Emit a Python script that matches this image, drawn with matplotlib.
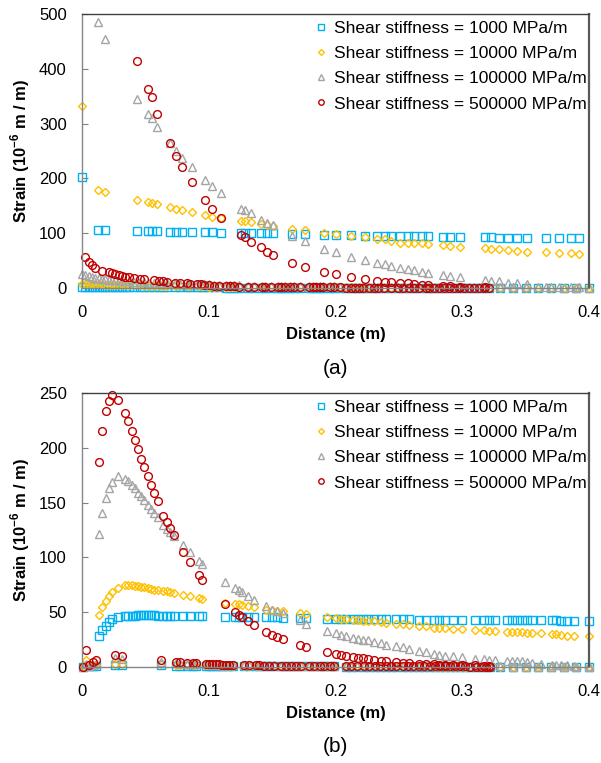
import numpy as np
import matplotlib
matplotlib.use('Agg')
import matplotlib.pyplot as plt

nan = np.nan

plt.rcParams['font.family'] = ['Liberation Sans', 'DejaVu Sans']
plt.rcParams['mathtext.fontset'] = 'custom'
plt.rcParams['mathtext.rm'] = 'Liberation Sans'
plt.rcParams['mathtext.bf'] = 'Liberation Sans:bold'

labels = ['Shear stiffness = 1000 MPa/m', 'Shear stiffness = 10000 MPa/m',
          'Shear stiffness = 100000 MPa/m', 'Shear stiffness = 500000 MPa/m']

# ---------------- panel (a) ----------------
# upper branch positions (m)
xa_top = [0.0, 0.0124, 0.0181, 0.0435, 0.052, 0.055, 0.0588, 0.0698, 0.0745, 0.079,
          0.0871, 0.0974, 0.1026, 0.110, 0.1257, 0.1283, 0.1336, 0.1415, 0.146, 0.151,
          0.166, 0.176, 0.191, 0.200, 0.212, 0.223, 0.233, 0.239, 0.244, 0.251,
          0.257, 0.262, 0.268, 0.273, 0.285, 0.290, 0.298, 0.318, 0.323, 0.329,
          0.336, 0.343, 0.351, 0.366, 0.376, 0.386, 0.392]
a_k1000_top = [202, 106, 106, 104, 104, 104, 104, 103, 103, 103,
               102, 102, 102, 101, 100, 100, 100, 100, 100, 100,
               98, 98, 97, 97, 96, 95, 95, 95, 95, 95,
               95, 95, 94, 94, 93.6, 93.6, 93.6, 92.5, 92.5, 92,
               92, 92, 91.5, 91, 91, 91, 91]
a_k10000_top = [332, 179, 176, 161, 157, 155, 153, 147, 145, 142,
                139, 133, 130, 128, 123, 122, 120, 117, 115, 113,
                108, 106, 100, 98, 95, 92.5, 89, 89, 86, 83,
                83, 82, 81.5, 81, 78.5, 76.6, 75.4, 72.4, 71, 70.6,
                69, 67.5, 66, 65, 64.4, 63, 62]
a_k100000_top = [nan, 486, 454, 344, 317, 310, 294, 264, 250, 237,
                 220, 197, 187, 173, 145, 142, 136, 124, 118, 115,
                 94, 86, 71, 66, 57, 51, 46, 44, 40, 37,
                 34, 33, 30, 28, 23.7, 22, 19.5, 14.6, 13.4, 12,
                 10, 8.5, 6.7, 2.4, 1.2, 1.0, 1.0]
a_k500000_top = [nan, nan, nan, 415, 364, 349, 317, 265, 241, 220,
                 193, 161, 145, 127, 97, 92.5, 84, 74, 66, 60,
                 46, 38, 28.6, 25, 19.5, 15.8, 12.8, 11.5, 10.4, 9.5,
                 8.5, 7.3, 6, 5, 3.5, 3, 2.5, 2, nan, nan,
                 nan, nan, nan, nan, nan, nan, nan]

# near-zero branch positions (m)
xa_low = [0.0000, 0.0026, 0.0055, 0.0079, 0.0105, 0.0131, 0.0157, 0.0184, 0.0210, 0.0236,
          0.0262, 0.0289, 0.0315, 0.0341, 0.0368, 0.0410, 0.0454, 0.0493, 0.0530, 0.0567,
          0.0606, 0.0638, 0.0672, 0.0730, 0.0774, 0.0830, 0.0856, 0.0908, 0.0940, 0.0960,
          0.1005, 0.1045, 0.1084, 0.1136, 0.1170, 0.1202, 0.1240, 0.1307, 0.1354, 0.1423,
          0.1441, 0.1494, 0.1546, 0.1572, 0.1598, 0.1638, 0.1669, 0.1717, 0.1790, 0.1821,
          0.1848, 0.1874, 0.1900, 0.1953, 0.1992, 0.2037, 0.2084, 0.2124, 0.2157, 0.2189,
          0.2220, 0.2262, 0.2302, 0.2333, 0.2386, 0.2439, 0.2490, 0.2535, 0.2583, 0.2622,
          0.2661, 0.2714, 0.2740, 0.2780, 0.2819, 0.2858, 0.2898, 0.2937, 0.2976, 0.3016,
          0.3055, 0.3094, 0.3134, 0.3173, 0.3213, 0.3300, 0.3400, 0.3500, 0.3600, 0.3700,
          0.3800, 0.3900, 0.4000]
a_k1000_low = [2.0, 2.0, 1.9, 1.9, 1.9, 1.8, 1.8, 1.8, 1.7, 1.7,
               1.7, 1.6, 1.6, 1.6, 1.5, 1.5, 1.5, 1.4, 1.4, 1.4,
               1.3, 1.3, 1.3, 1.2, 1.2, 1.2, 1.1, 1.1, 1.1, 1.0,
               1.0, 1.0, 1.0, 0.9, 0.9, 0.9, 0.9, 0.8, 0.8, 0.8,
               0.8, 0.8, 0.7, 0.7, 0.7, 0.7, 0.7, 0.7, 0.6, 0.6,
               0.6, 0.6, 0.6, 0.6, 0.6, 0.5, 0.5, 0.5, 0.5, 0.5,
               0.5, 0.5, 0.5, 0.5, 0.4, 0.4, 0.4, 0.4, 0.4, 0.4,
               0.4, 0.4, 0.4, 0.4, 0.4, 0.3, 0.3, 0.3, 0.3, 0.3,
               0.3, 0.3, 0.3, 0.3, 0.3, 0.3, 0.3, 0.3, 0.3, 0.3,
               0.3, 0.3, 0.3]
a_k10000_low = [8.0, 7.5, 7.2, 7.0, 6.8, 6.6, 6.4, 6.2, 6.0, 5.8,
                5.6, 5.5, 5.4, 5.2, 5.0, 4.8, 4.6, 4.4, 4.2, 4.0,
                3.9, 3.8, 3.7, 3.5, 3.4, 3.2, 3.1, 3.0, 2.9, 2.8,
                2.7, 2.6, 2.5, 2.4, 2.3, 2.2, 2.1, 2.0, 1.9, 1.8,
                1.8, 1.7, 1.7, 1.6, 1.6, 1.5, 1.5, 1.4, 1.4, 1.3,
                1.3, 1.3, 1.2, 1.2, 1.2, 1.1, 1.1, 1.1, 1.0, 1.0,
                1.0, 1.0, 0.9, 0.9, 0.9, 0.9, 0.8, 0.8, 0.8, 0.8,
                0.8, 0.7, 0.7, 0.7, 0.7, 0.7, 0.6, 0.6, 0.6, 0.6,
                0.6, 0.6, 0.5, 0.5, 0.5, 0.5, 0.5, 0.4, 0.4, 0.4,
                0.4, 0.4, 0.4]
a_k100000_low = [25, 23.5, 22, 20.5, 19, 18, 17, 16, 15, 14.5,
                 14, 13.5, 13, 12.5, 12, 11.5, 11, 10.5, 10, 9.5,
                 9.5, 9, 9, 8.5, 8, 8, 7.5, 7, 7, 6.5,
                 6.5, 6, 6, 5.5, 5.5, 5, 5, 4.5, 4.5, 4,
                 4, 4, 3.8, 3.7, 3.6, 3.5, 3.4, 3.3, 3.2, 3.1,
                 3, 3, 2.9, 2.8, 2.8, 2.7, 2.6, 2.6, 2.5, 2.5,
                 2.4, 2.4, 2.3, 2.3, 2.2, 2.2, 2.1, 2.1, 2.0, 2.0,
                 2.0, 1.9, 1.9, 1.9, 1.8, 1.8, 1.8, 1.7, 1.7, 1.7,
                 1.6, 1.6, 1.6, 1.5, 1.5, 1.4, 1.3, 1.2, 1.1, 1.0,
                 0.9, 0.8, 0.7]
a_k500000_low = [nan, 57, 48, 42, 37, nan, 31.6, nan, 29, 28,
                 25.5, 23.7, 22, 20.7, 19.5, 18.2, 17, 15.8, nan, 14,
                 13.4, 12.8, 11.6, 9.7, 8.5, 8.5, 7.9, 6.7, 6.7, 6,
                 4.9, 4.3, 4.3, 3.6, 3.6, 3, 2.4, 1.8, 1.8, 1.5,
                 1.5, 1.4, 1.4, 1.3, 1.3, 1.3, 1.2, 1.2, 1.2, 1.1,
                 1.1, 1.1, 1.0, 1.0, 1.0, 1.0, 0.9, 0.9, 0.9, 0.9,
                 0.9, 0.8, 0.8, 0.8, 0.8, 0.8, 0.7, 0.7, 0.7, 0.7,
                 0.7, 0.7, 0.6, 0.6, 0.6, 0.6, 0.6, 0.6, 0.5, 0.5,
                 0.5, 0.5, 0.5, 0.5, 0.5, nan, nan, nan, nan, nan,
                 nan, nan, nan]

# ---------------- panel (b) ----------------
xb_top = [0.0131, 0.0160, 0.0187, 0.0213, 0.0239, 0.0286, 0.0339, 0.0365, 0.0391, 0.0417,
          0.0438, 0.0465, 0.0490, 0.0517, 0.0543, 0.0570, 0.0596, 0.0640, 0.0672, 0.0698,
          0.0724, 0.0793, 0.0850, 0.0921, 0.0950, 0.1130, 0.1205, 0.1236, 0.1265, 0.1310,
          0.1355, 0.1454, 0.1500, 0.1540, 0.1585, 0.1717, 0.1769, 0.1935, 0.2005, 0.2045,
          0.2084, 0.2136, 0.2176, 0.2215, 0.2254, 0.2307, 0.2360, 0.2399, 0.2478, 0.2530,
          0.2583, 0.2661, 0.2714, 0.2780, 0.2819, 0.2866, 0.2924, 0.2998, 0.3102, 0.3173,
          0.3213, 0.3260, 0.3357, 0.3396, 0.3435, 0.3475, 0.3514, 0.3553, 0.3619, 0.3706,
          0.3738, 0.3777, 0.3829, 0.3882, 0.4000]
b_k1000_top = [28.5, 33.4, 37.7, 41, 44, 45.3, 46.2, 46.2, 46.2, 46.5,
               47, 47, 47, 47, 47, 47, 46.8, 46.8, 46.8, 46.8,
               46.8, 46.7, 46.7, 46.7, 46.7, 45.6, 45.6, 45.6, 45.6, 45.6,
               45.6, 45.3, 45.3, 45.3, 44.7, 44.7, 44.7, 43.8, 43.8, 43.8,
               43.8, 43.8, 43.8, 43.8, 43.8, 43.8, 43.8, 43.8, 43.8, 43.8,
               43.8, 43, 43, 43.1, 43.1, 43, 43, 43, 43, 43,
               43, 43, 42.8, 42.8, 42.8, 42.7, 42.7, 42.6, 42.6, 42.5,
               42.5, 42.4, 42.3, 42.3, 42.2]
b_k10000_top = [47, 55, 60, 64.4, 68.7, 72, 74.5, 74.5, 74.5, 74,
                73.6, 73, 72.6, 72, 71.5, 70.6, 70, 69.5, 69, 68.4,
                67.5, 65.4, 65, 63, 62.4, 58, 57.5, 57.5, 56.8, 56,
                54.4, 52.3, 51.6, 51.4, 50.7, 49, 48.3, 46, 44.7, 44,
                43.8, 43.1, 42.5, 42.2, 41.6, 41.6, 40.7, 40.1, 39.5, 39.2,
                38.6, 37.7, 37, 36, 35.7, 35.3, 35, 34.7, 34, 33.4,
                33, 32.5, 32, 32, 31.8, 31.5, 31.3, 31, 31, 30,
                29.7, 29.5, 28.5, 28.5, 28]
b_k100000_top = [121.6, 140.5, 154, 163, 169, 174, 171.8, 170, 166, 163,
                 159, 155.7, 152, 148, 144, 140.5, 137, 130, 126, 122.8,
                 119.8, 111, 105, 97, 94, 78, 72, 70, 68.4, 65,
                 61.4, 55.3, 52.3, 50.7, 49.3, 42.5, 39.5, 33.1, 31, 29.5,
                 28, 26.5, 25.8, 25, 24.3, 22.8, 21.9, 20.3, 18.8, 17.9,
                 16.4, 14.8, 13.6, 12.1, 11, 10.3, 9.7, 9.1, 7.6, 7.3,
                 6.6, 6, 5.1, 5.1, 5.1, 5.1, 4.5, 3.5, 2.7, 2.1,
                 2, 1.8, 1.5, 1.3, 1.2]
b_k500000_top = [187, 215, 234, 243, 248, 244, 232, 224, 215.6, 207,
                 199, 190, 182.5, 174, 166, 159, 151.7, 138, 132, 127,
                 120.7, 105, 95.8, 83.6, 79.7, 57.8, 50, 47.6, 45.6, 41.6,
                 38, 32, 29.5, 27.4, 25.5, 19.7, 18.2, 13.7, 11.9, 11.2,
                 10.3, 9.1, 8.5, 7.9, 7.3, 6.7, 5.9, 5.1, 4.6, 4.1,
                 3.6, 3.0, 2.7, 2.4, 2.2, 2.0, 1.8, 1.6, 1.4, 1.2,
                 1.1, nan, nan, nan, nan, nan, nan, nan, nan, nan,
                 nan, nan, nan, nan, nan]

xb_low = [0.0005, 0.0030, 0.0058, 0.0084, 0.0110, 0.0260, 0.0312, 0.0620, 0.0745, 0.0772,
          0.0832, 0.0877, 0.0903, 0.0976, 0.1002, 0.1028, 0.1055, 0.1081, 0.1107, 0.1134,
          0.1160, 0.1189, 0.1280, 0.1320, 0.1370, 0.1398, 0.1437, 0.1476, 0.1516, 0.1568,
          0.1607, 0.1647, 0.1686, 0.1726, 0.1791, 0.1832, 0.1874, 0.1913, 0.1953, 0.1992,
          0.2084, 0.2124, 0.2173, 0.2222, 0.2268, 0.2313, 0.2353, 0.2398, 0.2438, 0.2480,
          0.2530, 0.2572, 0.2615, 0.2660, 0.2700, 0.2745, 0.2786, 0.2825, 0.2865, 0.2905,
          0.2945, 0.2985, 0.3025, 0.3065, 0.3105, 0.3145, 0.3185, 0.3220, 0.3300, 0.3400,
          0.3500, 0.3600, 0.3700, 0.3800, 0.3900, 0.4000]
b_k1000_low = [0, 1, 0.5, 0.8, 1, 2, 2, 1.5, 1.2, 1.2,
               1.1, 1.1, 1.0, 1.0, 1.0, 0.9, 0.9, 0.9, 0.9, 0.8,
               0.8, 0.8, 0.7, 0.7, 0.7, 0.7, 0.7, 0.6, 0.6, 0.6,
               0.6, 0.6, 0.6, 0.5, 0.5, 0.5, 0.5, 0.5, 0.5, 0.5,
               0.4, 0.4, 0.4, 0.4, 0.4, 0.4, 0.4, 0.4, 0.4, 0.3,
               0.3, 0.3, 0.3, 0.3, 0.3, 0.3, 0.3, 0.3, 0.3, 0.3,
               0.3, 0.3, 0.3, 0.3, 0.3, 0.2, 0.2, 0.2, 0.2, 0.2,
               0.2, 0.2, 0.2, 0.2, 0.2, 0.2]
b_k10000_low = [0, 6.7, 1, 1.5, 2, 3, 3, 2.5, 2, 2,
                1.8, 1.8, 1.7, 1.6, 1.5, 1.5, 1.4, 1.4, 1.3, 1.3,
                1.2, 1.2, 1.1, 1.1, 1.0, 1.0, 1.0, 1.0, 0.9, 0.9,
                0.9, 0.9, 0.8, 0.8, 0.8, 0.8, 0.8, 0.7, 0.7, 0.7,
                0.7, 0.7, 0.6, 0.6, 0.6, 0.6, 0.6, 0.6, 0.5, 0.5,
                0.5, 0.5, 0.5, 0.5, 0.5, 0.5, 0.4, 0.4, 0.4, 0.4,
                0.4, 0.4, 0.4, 0.4, 0.4, 0.3, 0.3, 0.3, 0.3, 0.3,
                0.3, 0.3, 0.3, 0.3, 0.3, 0.3]
b_k100000_low = [0, 3, 1, 2, 3, 8, 7.5, 5, 3.6, 3.4,
                 3, 2.9, 2.8, 2.5, 2.4, 2.3, 2.2, 2.1, 2.0, 2.0,
                 1.9, 1.8, 1.7, 1.6, 1.6, 1.5, 1.5, 1.4, 1.4, 1.3,
                 1.3, 1.3, 1.2, 1.2, 1.2, 1.1, 1.1, 1.1, 1.0, 1.0,
                 1.0, 1.0, 0.9, 0.9, 0.9, 0.9, 0.8, 0.8, 0.8, 0.8,
                 0.8, 0.7, 0.7, 0.7, 0.7, 0.7, 0.6, 0.6, 0.6, 0.6,
                 0.6, 0.6, 0.5, 0.5, 0.5, 0.5, 0.5, 0.5, 0.5, 0.4,
                 0.4, 0.4, 0.4, 0.4, 0.3, 0.3]
b_k500000_low = [0, 15.8, 1.5, 4.2, 6.7, 10.6, 10.3, 6.7, 4.6, 4.6,
                 3.6, 3.6, 3.6, 3.0, 2.8, 2.6, 2.5, 2.3, 2.2, 2.0,
                 1.9, 1.8, 1.5, 1.5, 1.4, 1.4, 1.3, 1.3, 1.2, 1.2,
                 1.2, 1.1, 1.1, 1.1, 1.0, 1.0, 1.0, 1.0, 0.9, 0.9,
                 0.9, 0.9, 0.8, 0.8, 0.8, 0.8, 0.8, 0.7, 0.7, 0.7,
                 0.7, 0.7, 0.6, 0.6, 0.6, 0.6, 0.6, 0.5, 0.5, 0.5,
                 0.5, 0.5, 0.5, 0.4, 0.4, 0.4, 0.4, 0.4, nan, nan,
                 nan, nan, nan, nan, nan, nan]

# marker styles for the four series
colors = ['#00B0F0', '#FFC000', '#A5A5A5', '#C00000']
markers = ['s', 'D', '^', 'o']
sizes = [5.6, 4.2, 5.4, 5.6]

panels = [
    dict(xt=xa_top, xl=xa_low,
         top=[a_k1000_top, a_k10000_top, a_k100000_top, a_k500000_top],
         low=[a_k1000_low, a_k10000_low, a_k100000_low, a_k500000_low],
         ymax=500, ystep=100, tag='(a)'),
    dict(xt=xb_top, xl=xb_low,
         top=[b_k1000_top, b_k10000_top, b_k100000_top, b_k500000_top],
         low=[b_k1000_low, b_k10000_low, b_k100000_low, b_k500000_low],
         ymax=250, ystep=50, tag='(b)'),
]

W, H = 601, 763
fig = plt.figure(figsize=(W / 100, H / 100), dpi=100)
ax_boxes = [(82, 14, 589, 288), (82, 393, 589, 667)]

for p, (x0, y0, x1, y1) in zip(panels, ax_boxes):
    ax = fig.add_axes([x0 / W, 1 - y1 / H, (x1 - x0) / W, (y1 - y0) / H])
    handles = []
    for i in range(4):
        xs = np.concatenate([p['xt'], p['xl']])
        ys = np.concatenate([p['top'][i], p['low'][i]])
        h, = ax.plot(xs, ys, ls='none', marker=markers[i], ms=sizes[i],
                     mfc='none', mec=colors[i], mew=1.0, clip_on=False,
                     label=labels[i])
        handles.append(h)
    ax.set_xlim(0, 0.4)
    ax.set_ylim(0, p['ymax'])
    ax.set_xticks([0, 0.1, 0.2, 0.3, 0.4])
    ax.set_xticklabels(['0', '0.1', '0.2', '0.3', '0.4'])
    ax.set_yticks(np.arange(0, p['ymax'] + 1, p['ystep']))
    ax.tick_params(axis='y', direction='in', length=4, width=0.8,
                   color='#808080', labelsize=12, pad=11)
    ax.tick_params(axis='x', length=0, labelsize=12, pad=12)
    for side in ['left', 'bottom']:
        ax.spines[side].set_color('#868686')
        ax.spines[side].set_linewidth(1.0)
    ax.spines['top'].set_color('#404040')
    ax.spines['top'].set_linewidth(1.0)
    ax.spines['right'].set_color('#595959')
    ax.spines['right'].set_linewidth(1.6)
    ax.set_xlabel('Distance (m)', fontsize=12, fontweight='bold', labelpad=5)
    ax.set_ylabel(r'Strain (10$^{\mathbf{-6}}$ m / m)', fontsize=12,
                  fontweight='bold', labelpad=5)
    ax.legend(handles=handles, loc='upper right', bbox_to_anchor=(1.0, 0.985),
              frameon=False, fontsize=12.5, markerscale=0.7,
              handlelength=0.6, handletextpad=0.45, labelspacing=0.58,
              borderpad=0.15, borderaxespad=0.0)
    fig.text((x0 + x1) / 2 / W, 1 - (y1 + 80) / H, p['tag'], fontsize=15,
             ha='center', va='center')

fig.savefig('out.png', dpi=100)
